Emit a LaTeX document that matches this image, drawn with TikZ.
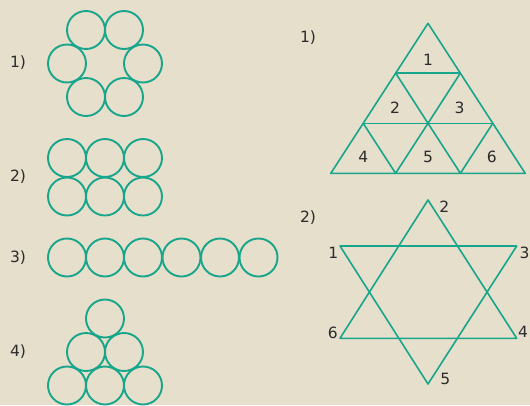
\documentclass[tikz,border=0pt]{standalone}
\usepackage{fontspec}
\setmainfont{DejaVu Sans}
\definecolor{bg}{HTML}{E6DFCB}
\definecolor{teal}{HTML}{17A58B}
\definecolor{txt}{HTML}{2B2B2B}
\begin{document}
\begin{tikzpicture}[x=1pt,y=-1pt,
  ring/.style={draw=teal,line width=1.9pt,circle,minimum size=38pt,inner sep=0pt},
  edge/.style={draw=teal,line width=1.6pt,line join=round},
  lbl/.style={text=txt,font=\fontsize{15.5}{15.5}\selectfont,inner sep=0pt}]
\fill[bg] (0,0) rectangle (530,405);
\useasboundingbox (0,0) rectangle (530,405);
% figure 1
\node[lbl] (l1) at (18,63) {1)};
\node[ring] (a1) at (86,30) {};
\node[ring] (a2) at (124,30) {};
\node[ring] (a3) at (67,63.5) {};
\node[ring] (a4) at (143,63.5) {};
\node[ring] (a5) at (86,97) {};
\node[ring] (a6) at (124,97) {};
% figure 2
\node[lbl] (l2) at (18,177) {2)};
\foreach \i/\x in {1/67,2/105,3/143}{
  \node[ring] (b\i) at (\x,158) {};
  \node[ring] (c\i) at (\x,196.5) {};
}
% figure 3
\node[lbl] (l3) at (18,257.5) {3)};
\foreach \i/\x in {1/67,2/105,3/143,4/181.5,5/220,6/258.5}{
  \node[ring] (d\i) at (\x,257.5) {};
}
% figure 4
\node[lbl] (l4) at (18,352) {4)};
\node[ring] (e1) at (105,318.5) {};
\node[ring] (e2) at (86,352) {};
\node[ring] (e3) at (124,352) {};
\node[ring] (e4) at (67,385.5) {};
\node[ring] (e5) at (105,385.5) {};
\node[ring] (e6) at (143,385.5) {};
% triangle grid
\node[lbl] (r1) at (308,38) {1)};
\coordinate (t0) at (428,23.3);
\coordinate (t10) at (395.6,73);
\coordinate (t11) at (460.4,73);
\coordinate (t20) at (363.2,123.3);
\coordinate (t21) at (428,123.3);
\coordinate (t22) at (492.8,123.3);
\coordinate (t30) at (330.8,173.3);
\coordinate (t31) at (395.6,173.3);
\coordinate (t32) at (460.4,173.3);
\coordinate (t33) at (525.2,173.3);
\draw[edge] (t0) -- (t30) -- (t33) -- cycle;
\draw[edge] (t10) -- (t11);
\draw[edge] (t20) -- (t22);
\draw[edge] (t10) -- (t21) -- (t11);
\draw[edge] (t20) -- (t31) -- (t21) -- (t32) -- (t22);
\node[lbl] (n1) at (428,60) {1};
\node[lbl] (n2) at (395,108) {2};
\node[lbl] (n3) at (459.5,108) {3};
\node[lbl] (n4) at (363.3,157) {4};
\node[lbl] (n5) at (428,157) {5};
\node[lbl] (n6) at (491.7,157) {6};
% star
\node[lbl] (r2) at (308,218) {2)};
\coordinate (s2) at (428,200);
\coordinate (s6) at (340,338.3);
\coordinate (s4) at (516.7,338.3);
\coordinate (s1) at (340,246);
\coordinate (s3) at (516.7,246);
\coordinate (s5) at (428,384);
\draw[edge] (s2) -- (s6) -- (s4) -- cycle;
\draw[edge] (s1) -- (s3) -- (s5) -- cycle;
\node[lbl] (m2) at (444.3,207) {2};
\node[lbl] (m1) at (333.3,253.3) {1};
\node[lbl] (m3) at (524.5,253.3) {3};
\node[lbl] (m6) at (332.7,332.7) {6};
\node[lbl] (m4) at (523,332) {4};
\node[lbl] (m5) at (445.3,379.3) {5};
\end{tikzpicture}
\end{document}
